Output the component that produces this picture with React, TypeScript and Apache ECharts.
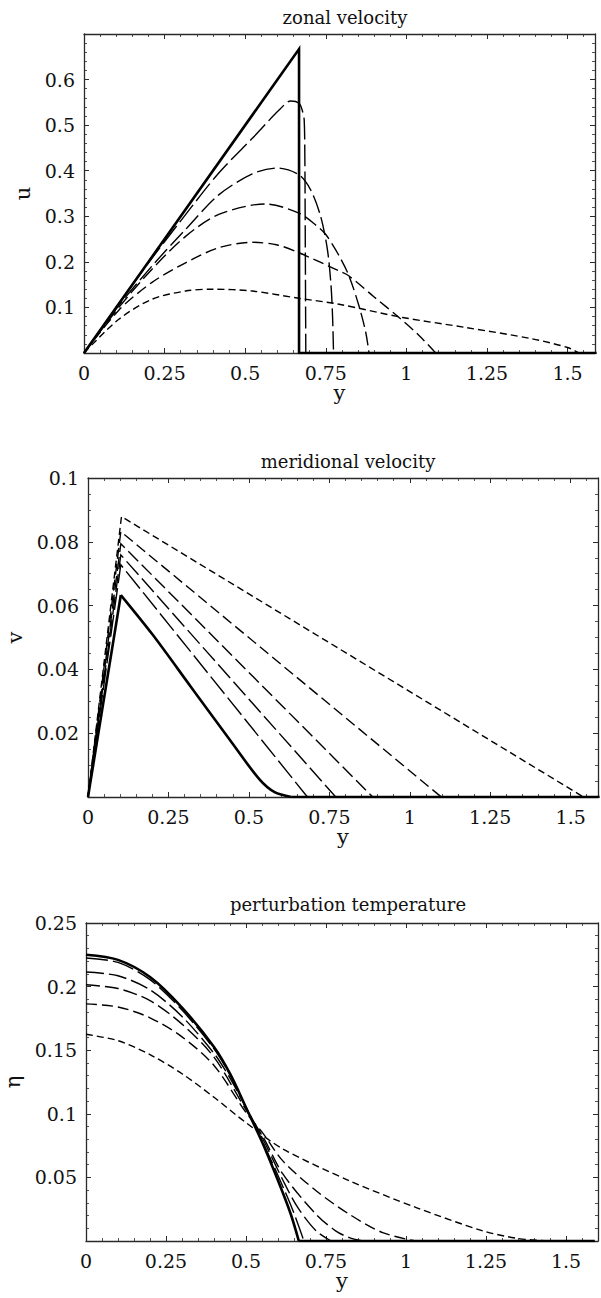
import React, { useEffect, useRef } from "react";
import * as echarts from "echarts";

// ---------- tick labels ----------
const xTickLabels = ["0", "0.25", "0.5", "0.75", "1", "1.25", "1.5"];
const uTickLabels = ["0.1", "0.2", "0.3", "0.4", "0.5", "0.6"];
const vTickLabels = ["0.02", "0.04", "0.06", "0.08", "0.1"];
const etaTickLabels = ["0.05", "0.1", "0.15", "0.2", "0.25"];

const titles = ["zonal velocity", "meridional velocity", "perturbation temperature"];
const yNames = ["u", "v", "\u03b7"];
const xName = "y";

// ---------- panel 1 : zonal velocity u(y) ----------
const uSolid = [[0, 0], [0.667, 0.667], [0.667, 0], [1.59, 0]];
const uB = [[0, 0], [0.1, 0.1], [0.2, 0.198], [0.3, 0.29], [0.418, 0.395], [0.522, 0.471], [0.605, 0.533], [0.641, 0.553], [0.667, 0.548], [0.678, 0.53], [0.683, 0.511], [0.685, 0.431], [0.686, 0.3], [0.687, 0.15], [0.688, 0]];
const uC = [[0, 0], [0.1, 0.097], [0.211, 0.191], [0.315, 0.271], [0.418, 0.347], [0.522, 0.393], [0.6, 0.406], [0.667, 0.391], [0.703, 0.358], [0.734, 0.3], [0.755, 0.227], [0.766, 0.15], [0.771, 0.08], [0.774, 0]];
const uD = [[0, 0], [0.108, 0.1], [0.211, 0.184], [0.315, 0.256], [0.418, 0.304], [0.563, 0.327], [0.667, 0.307], [0.72, 0.28], [0.75, 0.26], [0.79, 0.215], [0.822, 0.169], [0.853, 0.103], [0.874, 0.045], [0.884, 0]];
const uE = [[0, 0], [0.108, 0.094], [0.211, 0.155], [0.315, 0.198], [0.418, 0.231], [0.522, 0.243], [0.6, 0.237], [0.667, 0.22], [0.791, 0.18], [0.822, 0.169], [0.9, 0.123], [0.977, 0.078], [1.04, 0.038], [1.091, 0]];
const uF = [[0, 0], [0.108, 0.074], [0.211, 0.118], [0.315, 0.136], [0.398, 0.14], [0.522, 0.136], [0.667, 0.12], [0.791, 0.107], [0.988, 0.078], [1.184, 0.056], [1.391, 0.031], [1.5, 0.012], [1.535, 0]];

// ---------- panel 2 : meridional velocity v(y) ----------
const vSolid = [[0, 0], [0.102, 0.0633], [0.2, 0.051], [0.32, 0.0345], [0.44, 0.018], [0.533, 0.0055], [0.58, 0.0015], [0.632, 0], [1.59, 0]];
const vB = [[0, 0], [0.102, 0.0728], [0.682, 0]];
const vC = [[0, 0], [0.102, 0.0759], [0.77, 0]];
const vD = [[0, 0], [0.102, 0.0794], [0.885, 0]];
const vE = [[0, 0], [0.102, 0.0832], [1.098, 0]];
const vF = [[0, 0], [0.104, 0.0879], [1.54, 0]];

// ---------- panel 3 : perturbation temperature eta(y) ----------
const eSolid = [[0, 0.225], [0.1, 0.221], [0.2, 0.2075], [0.3, 0.1835], [0.4, 0.1525], [0.45, 0.1315], [0.5, 0.105], [0.55, 0.078], [0.6, 0.0475], [0.64, 0.021], [0.665, 0], [1.59, 0]];
const eB = [[0, 0.2225], [0.1, 0.219], [0.2, 0.2055], [0.3, 0.1815], [0.4, 0.151], [0.45, 0.1305], [0.5, 0.105], [0.55, 0.079], [0.6, 0.0515], [0.645, 0.025], [0.681, 0]];
const eC = [[0, 0.2115], [0.1, 0.2085], [0.2, 0.1975], [0.3, 0.1765], [0.4, 0.1475], [0.45, 0.128], [0.5, 0.105], [0.555, 0.079], [0.615, 0.048], [0.66, 0.027], [0.719, 0.008], [0.766, 0]];
const eD = [[0, 0.2014], [0.1, 0.1985], [0.2, 0.189], [0.3, 0.1705], [0.4, 0.1445], [0.5, 0.103], [0.555, 0.081], [0.615, 0.0527], [0.719, 0.021], [0.78, 0.008], [0.823, 0.0026], [0.865, 0]];
const eE = [[0, 0.1864], [0.1, 0.184], [0.2, 0.1755], [0.3, 0.1605], [0.4, 0.138], [0.5, 0.101], [0.555, 0.084], [0.615, 0.063], [0.719, 0.0395], [0.823, 0.021], [0.927, 0.0066], [1.03, 0]];
const eF = [[0, 0.1625], [0.1, 0.1575], [0.2, 0.1465], [0.3, 0.1315], [0.4, 0.113], [0.5, 0.093], [0.615, 0.0724], [0.823, 0.0474], [1.032, 0.0263], [1.24, 0.008], [1.35, 0.002], [1.45, 0]];

const panelCurves = [
  [uSolid, uB, uC, uD, uE, uF],
  [vSolid, vB, vC, vD, vE, vF],
  [eSolid, eB, eC, eD, eE, eF],
];
const panelYLabels = [uTickLabels, vTickLabels, etaTickLabels];

const FONT = '"DejaVu Serif", "Liberation Serif", serif';
const INK = "#111";
const FRAME = "#2a2a2a";

const lineStyles: any[] = [
  { type: "solid", width: 2.6 },
  { type: [22, 5], width: 1.4 },
  { type: [18, 5], width: 1.4 },
  { type: [14, 5], width: 1.4 },
  { type: [11, 5], width: 1.4 },
  { type: [7, 4], width: 1.4 },
];

// layout per panel
const layout = [
  { left: 84, top: 34, width: 511, height: 319, xMax: 1.585, yMax: 0.7, yInt: 0.1, yMinor: 5, yNameGap: 46, xNameGap: 28, titleX: 340, titleTop: 3 },
  { left: 88, top: 478, width: 510, height: 319, xMax: 1.585, yMax: 0.1, yInt: 0.02, yMinor: 4, yNameGap: 62, xNameGap: 26, titleX: 343, titleTop: 447 },
  { left: 86, top: 923, width: 512, height: 318, xMax: 1.6, yMax: 0.25, yInt: 0.05, yMinor: 5, yNameGap: 60, xNameGap: 26, titleX: 343, titleTop: 890 },
];

function fmtFrom(labels: string[]) {
  return (v: number) => {
    const s = labels.find((l) => Math.abs(parseFloat(l) - v) < 1e-7);
    return s === undefined ? "" : s;
  };
}

function buildOption() {
  const grid: any[] = [];
  const xAxis: any[] = [];
  const yAxis: any[] = [];
  const series: any[] = [];
  const title: any[] = [];

  const axisCommon = {
    axisLine: { show: true, onZero: false, lineStyle: { color: FRAME, width: 1.3 } },
    axisTick: { show: true, inside: true, length: 5, lineStyle: { color: FRAME, width: 1 } },
    minorTick: { show: true, length: 3, lineStyle: { color: FRAME, width: 0.8 } },
    splitLine: { show: false },
    minorSplitLine: { show: false },
  };

  const pushLine = (data: any, i: number, k: number, smooth: boolean) => {
    series.push({
      type: "line",
      xAxisIndex: i * 2,
      yAxisIndex: i * 2,
      data,
      symbol: "none",
      showSymbol: false,
      smooth: smooth ? 0.3 : false,
      clip: true,
      z: k === 0 ? 3 : 2,
      lineStyle: { color: "#000", width: lineStyles[k].width, type: lineStyles[k].type, cap: "butt", join: "miter" },
      emphasis: { disabled: true },
    });
  };

  layout.forEach((L, i) => {
    grid.push({ left: L.left, top: L.top, width: L.width, height: L.height, containLabel: false, outerBoundsMode: "none" });
    title.push({
      text: titles[i],
      left: L.titleX,
      top: L.titleTop,
      textAlign: "center",
      textStyle: { fontFamily: FONT, fontSize: 18, fontWeight: "normal", color: INK },
    });
    xAxis.push({
      ...axisCommon,
      type: "value",
      gridIndex: i,
      position: "bottom",
      min: 0,
      max: L.xMax,
      interval: 0.25,
      minorTick: { ...axisCommon.minorTick, splitNumber: 5 },
      axisLabel: { show: true, margin: 10, fontFamily: FONT, fontSize: 19, color: INK, formatter: fmtFrom(xTickLabels), showMaxLabel: true, showMinLabel: true },
      name: xName,
      nameLocation: "middle",
      nameGap: L.xNameGap,
      nameTextStyle: { fontFamily: FONT, fontSize: 21, color: INK },
    });
    xAxis.push({
      ...axisCommon,
      type: "value",
      gridIndex: i,
      position: "top",
      min: 0,
      max: L.xMax,
      interval: 0.25,
      minorTick: { ...axisCommon.minorTick, splitNumber: 5 },
      axisLabel: { show: false },
    });
    yAxis.push({
      ...axisCommon,
      type: "value",
      gridIndex: i,
      position: "left",
      min: 0,
      max: L.yMax,
      interval: L.yInt,
      minorTick: { ...axisCommon.minorTick, splitNumber: L.yMinor },
      axisLabel: { show: true, margin: 9, fontFamily: FONT, fontSize: 19, color: INK, formatter: fmtFrom(panelYLabels[i]), showMaxLabel: true },
      name: yNames[i],
      nameLocation: "middle",
      nameRotate: 90,
      nameGap: L.yNameGap,
      nameTextStyle: { fontFamily: FONT, fontSize: 21, color: INK },
    });
    yAxis.push({
      ...axisCommon,
      type: "value",
      gridIndex: i,
      position: "right",
      min: 0,
      max: L.yMax,
      interval: L.yInt,
      minorTick: { ...axisCommon.minorTick, splitNumber: L.yMinor },
      axisLabel: { show: false },
    });

    panelCurves[i].forEach((data, k) => {
      if (i === 0) {
        pushLine(data, i, k, k !== 0);
      } else if (i === 1) {
        if (k === 0) {
          pushLine(data.slice(0, 2), i, k, false);
          pushLine(data.slice(1, data.length - 1), i, k, true);
          pushLine(data.slice(data.length - 2), i, k, false);
        } else {
          pushLine(data, i, k, false);
        }
      } else {
        if (k === 0) {
          pushLine(data.slice(0, data.length - 1), i, k, true);
          pushLine(data.slice(data.length - 2), i, k, false);
        } else {
          pushLine(data, i, k, true);
        }
      }
    });
  });

  return {
    animation: false,
    backgroundColor: "#fff",
    title,
    grid,
    xAxis,
    yAxis,
    series,
  };
}

export default function App() {
  const ref = useRef<HTMLDivElement>(null);
  useEffect(() => {
    if (!ref.current) return;
    const chart = echarts.init(ref.current, null, { renderer: "svg" });
    chart.setOption(buildOption() as any);
    return () => chart.dispose();
  }, []);
  return (
    <div
      ref={ref}
      style={{ position: "absolute", left: 0, top: 0, width: 601, height: 1298, background: "#fff" }}
    />
  );
}
